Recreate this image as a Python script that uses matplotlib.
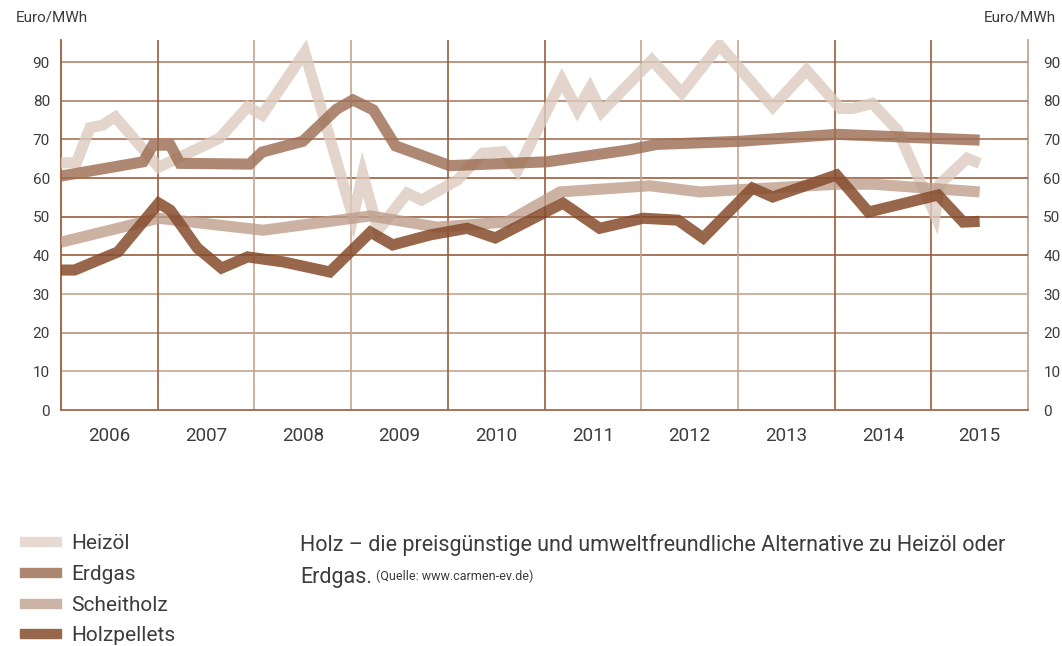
import matplotlib
matplotlib.use("Agg")
import matplotlib.pyplot as plt
from matplotlib.patches import Rectangle

plt.rcParams['font.family'] = ['Roboto', 'DejaVu Sans']

# decimal years and prices [Euro/MWh]
heizoel_x = [2006.0, 2006.16, 2006.30, 2006.43, 2006.56, 2007.01, 2007.64, 2007.93, 2008.08,
             2008.52, 2009.02, 2009.12, 2009.28, 2009.58, 2009.73, 2010.10, 2010.36, 2010.57,
             2010.72, 2011.18, 2011.34, 2011.47, 2011.59, 2012.11, 2012.42, 2012.81, 2013.36,
             2013.71, 2014.06, 2014.19, 2014.39, 2014.65, 2015.04, 2015.09, 2015.37, 2015.50]
heizoel_y = [63.9, 64.0, 73.0, 73.7, 75.8, 62.8, 70.3, 78.4, 76.3,
             92.5, 49.9, 61.0, 46.5, 56.1, 54.3, 59.5, 66.4, 66.8,
             62.0, 85.3, 77.6, 83.2, 77.1, 90.5, 82.0, 94.4, 78.4,
             87.9, 78.0, 78.0, 79.3, 72.4, 50.4, 58.5, 65.1, 63.8]

erdgas_x = [2006.0, 2006.85, 2006.95, 2007.13, 2007.23, 2007.95, 2008.08, 2008.50, 2008.85,
            2009.02, 2009.23, 2009.46, 2010.02, 2011.03, 2011.88, 2012.16, 2013.02, 2014.02, 2015.50]
erdgas_y = [60.5, 64.2, 68.5, 68.5, 63.8, 63.6, 66.7, 69.5, 77.8,
            80.2, 77.6, 68.3, 63.2, 64.2, 67.3, 68.7, 69.5, 71.3, 69.8]

scheitholz_x = [2006.0, 2007.01, 2008.09, 2009.02, 2009.20, 2009.89, 2010.61, 2011.16,
                2012.09, 2012.61, 2014.02, 2014.40, 2015.50]
scheitholz_y = [43.4, 49.6, 46.5, 49.6, 50.2, 47.3, 48.6, 56.4,
                58.0, 56.4, 58.4, 58.4, 56.4]

pellets_x = [2006.0, 2006.14, 2006.59, 2007.01, 2007.13, 2007.41, 2007.66, 2007.93, 2008.30,
             2008.78, 2009.20, 2009.43, 2009.82, 2010.20, 2010.49, 2011.19, 2011.57, 2012.02,
             2012.38, 2012.64, 2013.15, 2013.36, 2014.02, 2014.35, 2015.07, 2015.33, 2015.50]
pellets_y = [36.2, 36.2, 40.9, 53.5, 51.7, 41.9, 36.7, 39.6, 38.3,
             35.7, 46.0, 42.7, 45.3, 47.0, 44.5, 53.5, 47.0, 49.6,
             49.1, 44.5, 57.4, 55.1, 60.8, 51.2, 55.6, 48.6, 48.8]

years = list(range(2006, 2016))
yticks = [0, 10, 20, 30, 40, 50, 60, 70, 80, 90]

series_names = ["Heizöl", "Erdgas", "Scheitholz", "Holzpellets"]
line_colors = ["#dccbbf", "#9c6e53", "#bd9d8a", "#854b2b"]
line_alpha = [0.8, 0.82, 0.78, 0.85]
legend_colors = ["#e6dad2", "#ad8670", "#cbb3a5", "#98664a"]

text_col = "#3c3c3c"
dark_grid = "#9a5e3d"
light_grid = "#c4a594"

fig = plt.figure(figsize=(10.62, 6.46), dpi=100)
ax = fig.add_axes([61 / 1062, 1 - 410 / 646, (1028 - 61) / 1062, (410 - 40) / 646])
ax.set_xlim(2006, 2016)
ax.set_ylim(0, 95.7)

# grid lines, some drawn lighter like in the original print
h_cols = {10: light_grid, 20: "#b98f78", 30: light_grid, 40: dark_grid, 50: dark_grid,
          60: dark_grid, 70: "#a8725a", 80: "#ae8069", 90: "#b08670"}
for v, c in h_cols.items():
    ax.axhline(v, color=c, lw=1.2, zorder=1)
v_cols = [dark_grid, light_grid, light_grid, dark_grid, dark_grid,
          light_grid, light_grid, dark_grid, dark_grid]
for yr, c in zip(years[1:], v_cols):
    ax.axvline(yr, color=c, lw=1.2, zorder=1)

ax.spines["top"].set_visible(False)
ax.spines["right"].set_visible(False)
ax.spines["left"].set_color(dark_grid)
ax.spines["bottom"].set_color("#a06a4c")
for sp in ["left", "bottom"]:
    ax.spines[sp].set_linewidth(1.3)

data = [(heizoel_x, heizoel_y), (erdgas_x, erdgas_y),
        (scheitholz_x, scheitholz_y), (pellets_x, pellets_y)]
for (xs, ys), c, a in zip(data, line_colors, line_alpha):
    ax.plot(xs, ys, color=c, alpha=a, lw=8, solid_joinstyle="miter",
            solid_capstyle="butt", zorder=3)

ax.set_yticks(yticks)
ax.set_yticklabels([str(t) for t in yticks])
ax.tick_params(axis="y", length=0, pad=8, labelsize=11, labelcolor=text_col)

# right hand scale
sec = ax.secondary_yaxis("right")
sec.set_yticks(yticks)
sec.set_yticklabels([str(t) for t in yticks])
sec.tick_params(length=0, pad=11, labelsize=11, labelcolor=text_col)
sec.spines["right"].set_color(light_grid)
sec.spines["right"].set_linewidth(1.3)

ax.set_xticks([y + 0.5 for y in years])
ax.set_xticklabels([str(y) for y in years])
ax.tick_params(axis="x", length=0, pad=12, labelsize=13.5, labelcolor=text_col)

fig.text(16 / 1062, 1 - 17 / 646, "Euro/MWh", fontsize=11, color=text_col,
         ha="left", va="center")
fig.text(1056 / 1062, 1 - 17 / 646, "Euro/MWh", fontsize=11, color=text_col,
         ha="right", va="center")

# legend drawn by hand
for i, (name, c) in enumerate(zip(series_names, legend_colors)):
    yc = 1 - (541.5 + 30.8 * i) / 646
    fig.patches.append(Rectangle((20 / 1062, yc - 4.5 / 646), 41 / 1062, 9 / 646,
                                 transform=fig.transFigure, color=c))
    fig.text(71 / 1062, yc - 2 / 646, name, fontsize=15, color=text_col,
             ha="left", va="center")

fig.text(300 / 1062, 1 - 545 / 646,
         "Holz – die preisgünstige und umweltfreundliche Alternative zu Heizöl oder",
         fontsize=15.5, color=text_col, ha="left", va="center")
t2 = fig.text(300 / 1062, 1 - 577 / 646, "Erdgas.", fontsize=15.5, color=text_col,
              ha="left", va="center")
plt.annotate("(Quelle: www.carmen-ev.de)", xy=(1, 0), xycoords=t2, xytext=(3, 3),
             textcoords="offset points", fontsize=9, color=text_col,
             ha="left", va="bottom", annotation_clip=False)

fig.savefig("out.png", dpi=100)
